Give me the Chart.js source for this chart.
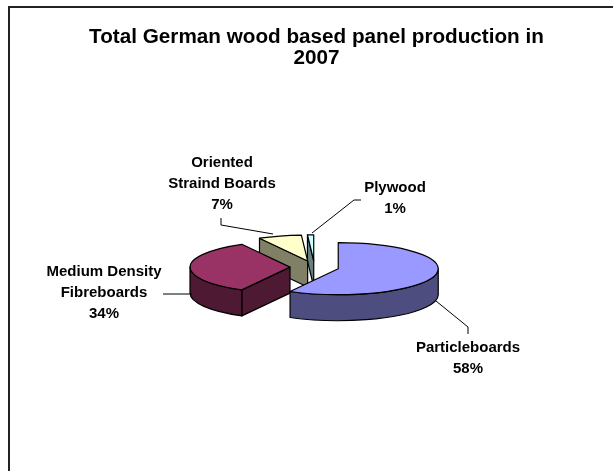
<!DOCTYPE html>
<html><head><meta charset="utf-8">
<style>html,body{margin:0;padding:0;background:#fff}#w{position:relative;width:613px;height:471px;overflow:hidden}
#w canvas{display:block}</style>
<script src="https://cdn.jsdelivr.net/npm/chart.js@4"></script></head>
<body><div id="w"><canvas id="c" width="613" height="471"></canvas></div>
<script>
const categories = ['Particleboards','Medium Density Fibreboards','Oriented Straind Boards','Plywood'];
const shares = [58,34,7,1];
const titleLines = ['Total German wood based panel production in','2007'];
const labelLines = [['Particleboards'],['Medium Density','Fibreboards'],['Oriented','Straind Boards'],['Plywood']];
const topColors = ['#9999FF','#993366','#FFFFCC','#CCFFFF'];
const sideColors = ['#4D4D80','#4D1933','#808066','#668080'];
const labelAnchors = [[468,348],[104,272],[222,163],[395,188]];
const leaders = [[[436,301],[468,327],[468,334]],[[192,294],[163,294]],[[273,234],[221,225],[221,218]],[[312,233],[354,200],[361,200]]];
const FLAT = 0.26, DEPTH = 26, LH = 20.7, EXPLODE = 24.5, PIE_SHIFT = -2;
const drawOrder = [3,2,1,0];

function geom(el,cy){
  return {x:el.x, y:cy+(el.y-cy)*FLAT, r:el.outerRadius, a:el.startAngle, b:el.endAngle};
}
const pt=(g,t)=>[g.x+Math.cos(t)*g.r, g.y+Math.sin(t)*g.r*FLAT];
function paint(ctx,fill){ctx.fillStyle=fill;ctx.fill();ctx.lineWidth=1.2;ctx.strokeStyle='#000';ctx.lineJoin='round';ctx.stroke();}

const pie3d = {
  id:'pie3d',
  afterDatasetsUpdate(chart){
    chart.getDatasetMeta(0).data.forEach(el=>{
      const mid=(el.startAngle+el.endAngle)/2;
      el.x+=Math.cos(mid)*EXPLODE+PIE_SHIFT; el.y+=Math.sin(mid)*EXPLODE;
    });
  },
  beforeDatasetDraw(chart,args){
    const ctx=chart.ctx, els=args.meta.data;
    const a=chart.chartArea, cy=(a.top+a.bottom)/2;
    drawOrder.forEach(i=>{
      const g=geom(els[i],cy);
      // side walls that face the viewer
      const wall=(t)=>{const p=pt(g,t);ctx.beginPath();ctx.moveTo(g.x,g.y);ctx.lineTo(p[0],p[1]);ctx.lineTo(p[0],p[1]+DEPTH);ctx.lineTo(g.x,g.y+DEPTH);ctx.closePath();paint(ctx,sideColors[i]);};
      if(Math.cos(g.a)<0) wall(g.a);
      if(Math.cos(g.b)>0) wall(g.b);
      // outer rim: part of the arc in the front half
      for(const k of [-2,0,2]){
        const lo=Math.max(g.a,k*Math.PI), hi=Math.min(g.b,(k+1)*Math.PI);
        if(hi>lo){
          ctx.beginPath();
          ctx.ellipse(g.x,g.y,g.r,g.r*FLAT,0,lo,hi);
          ctx.ellipse(g.x,g.y+DEPTH,g.r,g.r*FLAT,0,hi,lo,true);
          ctx.closePath();paint(ctx,sideColors[i]);
        }
      }
    });
    ctx.save();ctx.translate(0,cy);ctx.scale(1,FLAT);ctx.translate(0,-cy);
  },
  afterDatasetDraw(chart,args){
    const ctx=chart.ctx;ctx.restore();
    const a=chart.chartArea, cy=(a.top+a.bottom)/2;
    args.meta.data.forEach(el=>{
      const g=geom(el,cy);
      ctx.beginPath();ctx.moveTo(g.x,g.y);ctx.ellipse(g.x,g.y,g.r,g.r*FLAT,0,g.a,g.b);ctx.closePath();
      ctx.lineWidth=1.2;ctx.strokeStyle='#000';ctx.lineJoin='round';ctx.stroke();
    });
    // leader lines and labels
    ctx.strokeStyle='#000';ctx.lineWidth=1;
    leaders.forEach(l=>{ctx.beginPath();l.forEach((p,i)=>i?ctx.lineTo(p[0],p[1]):ctx.moveTo(p[0],p[1]));ctx.stroke();});
    ctx.fillStyle='#000';ctx.font='bold 15px "Liberation Sans"';ctx.textAlign='center';ctx.textBaseline='middle';
    const total=shares.reduce((s,v)=>s+v,0);
    labelLines.forEach((lines,i)=>{
      const all=[...lines,Math.round(shares[i]/total*100)+'%'];
      all.forEach((t,j)=>ctx.fillText(t,labelAnchors[i][0],labelAnchors[i][1]+j*LH));
    });
  },
  beforeDraw(chart){
    const ctx=chart.ctx;ctx.save();ctx.fillStyle='#fff';ctx.fillRect(0,0,chart.width,chart.height);
    ctx.strokeStyle='#222';ctx.lineWidth=2;ctx.beginPath();ctx.moveTo(9,471);ctx.lineTo(9,7);ctx.lineTo(613,7);ctx.stroke();ctx.restore();
  }
};

new Chart(document.getElementById('c'),{
  type:'pie',
  data:{labels:categories,datasets:[{data:shares,backgroundColor:topColors,borderWidth:0,radius:100,clip:false,hoverOffset:0}]},
  options:{
    responsive:false,animation:false,rotation:0,
    layout:{padding:{left:20,top:0,right:0,bottom:37}},
    plugins:{
      legend:{display:false},tooltip:{enabled:false},
      title:{display:true,text:titleLines,color:'#000',font:{family:'"Liberation Sans"',size:20.7,weight:'bold',lineHeight:1.02},padding:{top:27,bottom:31}}
    }
  },
  plugins:[pie3d]
});
</script></body></html>
